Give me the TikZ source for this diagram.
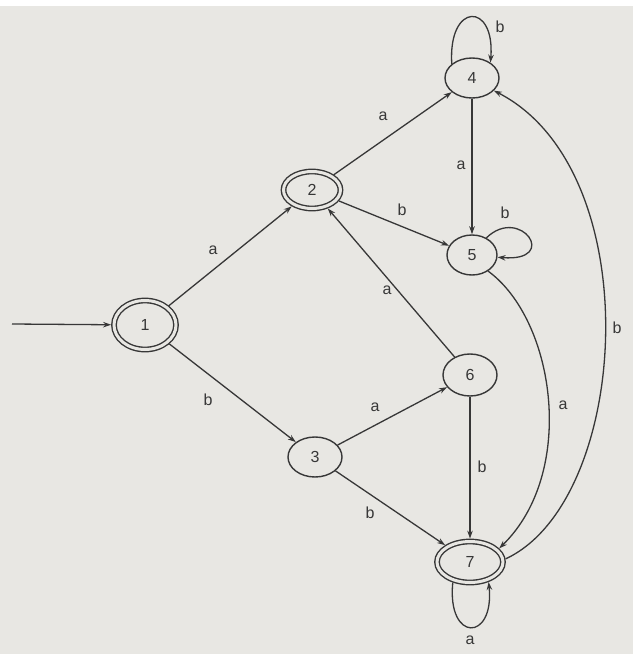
\documentclass[tikz,border=0pt]{standalone}
\usepackage{fontspec}
\setmainfont{Liberation Sans}
\usetikzlibrary{shapes.geometric,arrows.meta}
\definecolor{bgc}{RGB}{232,231,227}
\definecolor{ink}{RGB}{55,55,55}
\begin{document}
\begin{tikzpicture}[x=1pt,y=-1pt,
  st/.style={ellipse,draw=ink,line width=1.4pt,fill=bgc,inner sep=0pt,text=ink,
             font=\fontsize{16}{19}\selectfont},
  acc/.style={st,double=bgc,double distance=3pt,outer sep=2.9pt},
  arr/.style={draw=ink,line width=1.3pt,-{Stealth[length=8pt,width=5.5pt]}},
  lbl/.style={text=ink,font=\fontsize{16}{19}\selectfont,inner sep=1pt}]
\fill[white] (0,0) rectangle (633,654);
\fill[bgc] (0,6) rectangle (633,654);
\useasboundingbox (0,0) rectangle (633,654);

\node[acc,minimum width=62pt,minimum height=49pt] (n1) at (145,325) {1};
\node[acc,minimum width=57pt,minimum height=37pt] (n2) at (312,190) {2};
\node[st,minimum width=54pt,minimum height=40pt] (n3) at (315,457) {3};
\node[st,minimum width=54pt,minimum height=40pt] (n4) at (472,78) {4};
\node[st,minimum width=50pt,minimum height=40pt] (n5) at (472,255) {5};
\node[st,minimum width=54pt,minimum height=42pt] (n6) at (470,375) {6};
\node[acc,minimum width=66pt,minimum height=41pt] (n7) at (470,562) {7};
\coordinate (init) at (12,324);

\draw[arr] (init) -- (n1);
\draw[arr] (n1) -- (n2);
\draw[arr] (n1) -- (n3);
\draw[arr] (n2) -- (n4);
\draw[arr] (n2) -- (n5);
\draw[arr] (n4) -- (n5);
\draw[arr] (n6) -- (n2);
\draw[arr] (n3) -- (n6);
\draw[arr] (n3) -- (n7);
\draw[arr] (n6) -- (n7);
\draw[arr] (n4.145) .. controls +(-4,-62) and +(5,-61) .. (n4.40);
\draw[arr] (n5.50) .. controls +(34,-33) and +(63,5) .. (n5.-5);
\draw[arr] (n7.230) .. controls +(-6,60) and +(6,60) .. (n7.313);
\draw[arr] (n5.-45) .. controls +(67,49) and +(78,-76) .. (n7.25);
\draw[arr] (n7.5) .. controls +(125,-58) and +(156,80) .. (n4.-30);

\node[lbl] (l12) at (213,250) {a};
\node[lbl] (l13) at (208,400) {b};
\node[lbl] (l24) at (383,116) {a};
\node[lbl] (l25) at (402,210) {b};
\node[lbl] (l45) at (461,165) {a};
\node[lbl] (l62) at (387,290) {a};
\node[lbl] (l36) at (375,407) {a};
\node[lbl] (l37) at (370,513) {b};
\node[lbl] (l67) at (482,467) {b};
\node[lbl] (l57) at (563,405) {a};
\node[lbl] (l74) at (617,328) {b};
\node[lbl] (l44) at (500,27) {b};
\node[lbl] (l55) at (505,213) {b};
\node[lbl] (l77) at (470,640) {a};
\end{tikzpicture}
\end{document}
